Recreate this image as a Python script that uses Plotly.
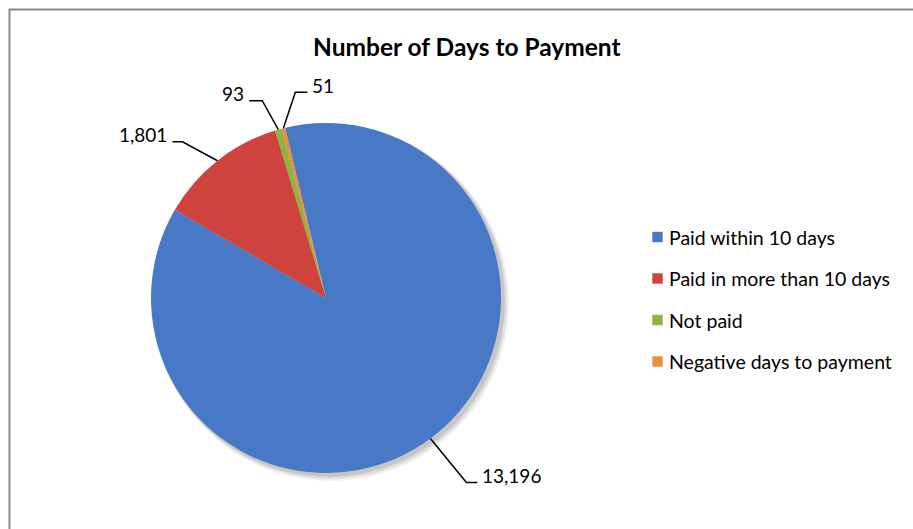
import math
import plotly.graph_objects as go

# ---- data ----
title = "Number of Days to Payment"
labels = ["Paid within 10 days", "Paid in more than 10 days", "Not paid", "Negative days to payment"]
values = [13196, 1801, 93, 51]
colors = ["#4779c6", "#d0423e", "#8db442", "#e8913f"]

# ---- layout constants (pixels) ----
W, H = 913, 529
CX, CY, R = 326, 298, 175
ROT = -13.5
FONT = "Lato"
# leader-line styling per slice: elbow offset from slice edge and horizontal tail length
leader_elbow = [(36, 44), (-35, -19), (-16, -29), (12, -36)]
leader_tail = [11, -10, -13, 12]


def px(x):
    return x / W


def py(y):
    return 1 - y / H


fig = go.Figure(go.Pie(
    labels=labels, values=values, sort=False, direction="clockwise", rotation=ROT,
    marker=dict(colors=colors, line=dict(width=0)),
    textinfo="none", hoverinfo="label+value", showlegend=False,
    domain=dict(x=[px(CX - R), px(CX + R)], y=[py(CY + R), py(CY - R)]),
))

shapes = []
# soft shadow behind pie
for off, extra, a in [(5, 3, 0.06), (4, 2, 0.08), (3, 1, 0.10)]:
    shapes.append(dict(type="circle", xref="paper", yref="paper", layer="below",
                       x0=px(CX - R - extra + off), x1=px(CX + R + extra + off),
                       y0=py(CY + R + extra + off), y1=py(CY - R - extra + off),
                       fillcolor=f"rgba(0,0,0,{a})", line=dict(width=0)))
# chart frame
shapes.append(dict(type="rect", xref="paper", yref="paper", x0=px(9.5), x1=px(940),
                   y0=py(560), y1=py(9.5), line=dict(color="#8a8a8a", width=2)))

annotations = []
total = sum(values)
start = ROT
for i, v in enumerate(values):
    span = v / total * 360
    mid = math.radians(start + span / 2)
    start += span
    sx, sy = CX + R * math.sin(mid), CY - R * math.cos(mid)
    ex, ey = sx + leader_elbow[i][0], sy + leader_elbow[i][1]
    tx = ex + leader_tail[i]
    shapes.append(dict(type="path", xref="paper", yref="paper",
                       path=f"M {px(sx)},{py(sy)} L {px(ex)},{py(ey)} L {px(tx)},{py(ey)}",
                       line=dict(color="black", width=1.5)))
    right = leader_tail[i] > 0
    annotations.append(dict(xref="paper", yref="paper", x=px(tx + (3 if right else -3)), y=py(ey - 7),
                            text=f"{v:,}", showarrow=False,
                            xanchor="left" if right else "right", yanchor="middle",
                            font=dict(family=FONT, size=19, color="black")))

# manual legend
legend_y = [237, 278.5, 320, 361.5]
for lab, col, ly in zip(labels, colors, legend_y):
    shapes.append(dict(type="rect", xref="paper", yref="paper",
                       x0=px(652), x1=px(663), y0=py(ly + 5.5), y1=py(ly - 5.5),
                       fillcolor=col, line=dict(color="rgba(255,255,255,0.6)", width=1)))
    annotations.append(dict(xref="paper", yref="paper", x=px(667), y=py(ly), text=lab,
                            showarrow=False, xanchor="left", yanchor="middle",
                            font=dict(family=FONT, size=19.5, color="black")))

annotations.append(dict(xref="paper", yref="paper", x=px(467), y=py(47), text=f"<b>{title}</b>",
                        showarrow=False, xanchor="center", yanchor="middle",
                        font=dict(family=FONT, size=24.5, color="black")))

fig.update_layout(width=W, height=H, margin=dict(l=0, r=0, t=0, b=0),
                  paper_bgcolor="white", plot_bgcolor="white",
                  shapes=shapes, annotations=annotations, showlegend=False)
fig.write_html("out.html", config={"displayModeBar": False},
               post_script="document.body.style.margin='0';document.body.style.overflow='hidden';")
